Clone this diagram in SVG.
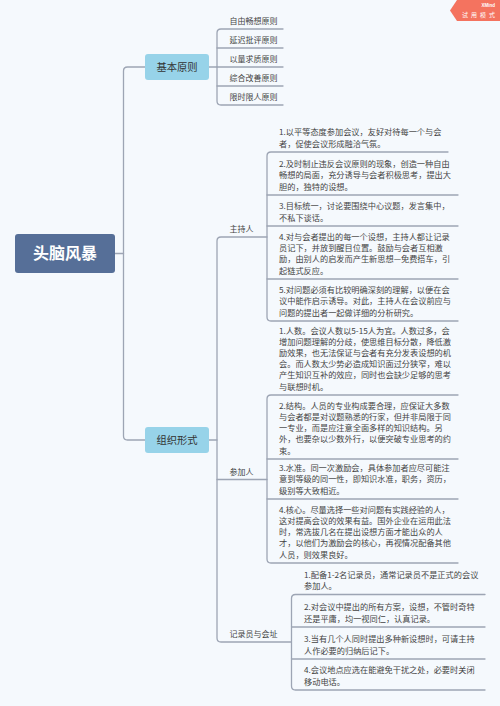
<svg xmlns="http://www.w3.org/2000/svg" width="500" height="706" viewBox="0 0 500 706">
<style>
.bg{fill:#f5f9fd}
.ln{fill:none;stroke:#9da5b4;stroke-width:1.3;stroke-linecap:round}
.root{fill:#566f98}
.br{fill:#97d3e9}
.t{font-family:"Noto Sans CJK SC","Noto Sans",sans-serif;fill:#3a3a3a}
.rt{font-family:"Noto Sans CJK SC","Noto Sans",sans-serif;fill:#ffffff;font-size:16px;font-weight:bold}
.bt{font-size:10.3px;fill:#333}
.lf{font-size:8px;fill:#444}
.it{font-size:8.2px;fill:#444}
</style>
<rect class="bg" x="0" y="0" width="500" height="706"/>
<g id="watermark">
<polygon points="457,0 500,0 500,21 457,21 450,10.5" fill="#f4735f"/>
<text x="495" y="7" text-anchor="end" font-family="Liberation Sans,sans-serif" font-size="4.5" font-weight="bold" fill="#fff">XMind</text>
<text x="462" y="16.5" font-family="Noto Sans CJK SC,sans-serif" font-size="6" letter-spacing="3" fill="#fff">试用模式</text>
</g>
<g id="connectors">
<path class="ln" d="M115,253.5 H123.5"/>
<path class="ln" d="M145,67 H127.5 Q123.5,67 123.5,71 V436 Q123.5,440 127.5,440 H145"/>
<path class="ln" d="M209,67 H217"/>
<path class="ln" d="M283,29 H221 Q217,29 217,33 V101 Q217,105 221,105 H283"/>
<path class="ln" d="M217,48 H283 M217,67 H283 M217,86 H283"/>
<path class="ln" d="M209,440 H217"/>
<path class="ln" d="M267,237 H221 Q217,237 217,241 V638 Q217,642 221,642 H291.5"/>
<path class="ln" d="M217,479.5 H267"/>
<path class="ln" d="M448,152 H271 Q267,152 267,156 V317 Q267,321 271,321 H458"/>
<path class="ln" d="M267,195 H458 M267,226 H458 M267,279 H458"/>
<path class="ln" d="M458,395 H271 Q267,395 267,399 V559 Q267,563 271,563 H458"/>
<path class="ln" d="M267,459 H458 M267,499 H458"/>
<path class="ln" d="M485,594.5 H295.5 Q291.5,594.5 291.5,598.5 V686 Q291.5,690 295.5,690 H485"/>
<path class="ln" d="M291.5,627 H485 M291.5,659 H485"/>
</g>
<g id="root">
<rect class="root" x="15" y="234" width="100" height="39" rx="3"/>
<text class="rt" x="65" y="259" text-anchor="middle">头脑风暴</text>
</g>
<g id="n-jbyz">
<rect class="br" x="145" y="54" width="64" height="26" rx="3"/>
<text class="t bt" x="177" y="71" text-anchor="middle">基本原则</text>
</g>
<g id="n-jbyz-leaves">
<text class="t lf" x="229.5" y="24">自由畅想原则</text>
<text class="t lf" x="229.5" y="43">延迟批评原则</text>
<text class="t lf" x="229.5" y="62">以量求质原则</text>
<text class="t lf" x="229.5" y="81">综合改善原则</text>
<text class="t lf" x="229.5" y="100">限时限人原则</text>
</g>
<g id="n-zzxs">
<rect class="br" x="145" y="427" width="64" height="26" rx="3"/>
<text class="t bt" x="177" y="444" text-anchor="middle">组织形式</text>
</g>
<g id="n-zcr">
<text class="t lf" x="229.5" y="232">主持人</text>
</g>
<g id="n-cjr">
<text class="t lf" x="229.5" y="474.5">参加人</text>
</g>
<g id="n-jly">
<text class="t lf" x="229.5" y="637">记录员与会址</text>
</g>
<g id="zcr-items">
<text class="t it" x="279" y="135.4"><tspan x="279">1.以平等态度参加会议，友好对待每一个与会</tspan><tspan x="279" dy="11.2">者，促使会议形成融洽气氛。</tspan></text>
<text class="t it" x="279" y="167.2"><tspan x="279">2.及时制止违反会议原则的现象，创造一种自由</tspan><tspan x="279" dy="11.2">畅想的局面，充分诱导与会者积极思考，提出大</tspan><tspan x="279" dy="11.2">胆的，独特的设想。</tspan></text>
<text class="t it" x="279" y="209.4"><tspan x="279">3.目标统一，讨论要围绕中心议题，发言集中，</tspan><tspan x="279" dy="11.2">不私下谈话。</tspan></text>
<text class="t it" x="279" y="240"><tspan x="279">4.对与会者提出的每一个设想，主持人都让记录</tspan><tspan x="279" dy="11.2">员记下，并放到醒目位置。鼓励与会者互相激</tspan><tspan x="279" dy="11.2">励，由别人的启发而产生新思想—免费搭车，引</tspan><tspan x="279" dy="11.2">起链式反应。</tspan></text>
<text class="t it" x="279" y="293.2"><tspan x="279">5.对问题必须有比较明确深刻的理解，以便在会</tspan><tspan x="279" dy="11.2">议中能作启示诱导。对此，主持人在会议前应与</tspan><tspan x="279" dy="11.2">问题的提出者一起做详细的分析研究。</tspan></text>
</g>
<g id="cjr-items">
<text class="t it" x="279" y="333.6"><tspan x="279">1.人数。会议人数以5-15人为宜。人数过多，会</tspan><tspan x="279" dy="11.2">增加问题理解的分歧，使思维目标分散，降低激</tspan><tspan x="279" dy="11.2">励效果，也无法保证与会者有充分发表设想的机</tspan><tspan x="279" dy="11.2">会。而人数太少势必造成知识面过分狭窄，难以</tspan><tspan x="279" dy="11.2">产生知识互补的效应，同时也会缺少足够的思考</tspan><tspan x="279" dy="11.2">与联想时机。</tspan></text>
<text class="t it" x="279" y="408.8"><tspan x="279">2.结构。人员的专业构成要合理，应保证大多数</tspan><tspan x="279" dy="11.2">与会者都是对议题熟悉的行家，但并非局限于同</tspan><tspan x="279" dy="11.2">一专业，而是应注意全面多样的知识结构。另</tspan><tspan x="279" dy="11.2">外，也要杂以少数外行，以便突破专业思考的约</tspan><tspan x="279" dy="11.2">束。</tspan></text>
<text class="t it" x="279" y="471.2"><tspan x="279">3.水准。同一次激励会，具体参加者应尽可能注</tspan><tspan x="279" dy="11.2">意到等级的同一性，即知识水准，职务，资历，</tspan><tspan x="279" dy="11.2">级别等大致相近。</tspan></text>
<text class="t it" x="279" y="512.8"><tspan x="279">4.核心。尽量选择一些对问题有实践经验的人，</tspan><tspan x="279" dy="11.2">这对提高会议的效果有益。国外企业在运用此法</tspan><tspan x="279" dy="11.2">时，常选拔几名在提出设想方面才能出众的人</tspan><tspan x="279" dy="11.2">才，以他们为激励会的核心，再视情况配备其他</tspan><tspan x="279" dy="11.2">人员，则效果良好。</tspan></text>
</g>
<g id="jly-items">
<text class="t it" x="304" y="577.9"><tspan x="304">1.配备1-2名记录员，通常记录员不是正式的会议</tspan><tspan x="304" dy="11.2">参加人。</tspan></text>
<text class="t it" x="304" y="610.4"><tspan x="304">2.对会议中提出的所有方案，设想，不管时奇特</tspan><tspan x="304" dy="11.2">还是平庸，均一视同仁，认真记录。</tspan></text>
<text class="t it" x="304" y="642.4"><tspan x="304">3.当有几个人同时提出多种新设想时，可请主持</tspan><tspan x="304" dy="11.2">人作必要的归纳后记下。</tspan></text>
<text class="t it" x="304" y="673.4"><tspan x="304">4.会议地点应选在能避免干扰之处，必要时关闭</tspan><tspan x="304" dy="11.2">移动电话。</tspan></text>
</g>
</svg>
